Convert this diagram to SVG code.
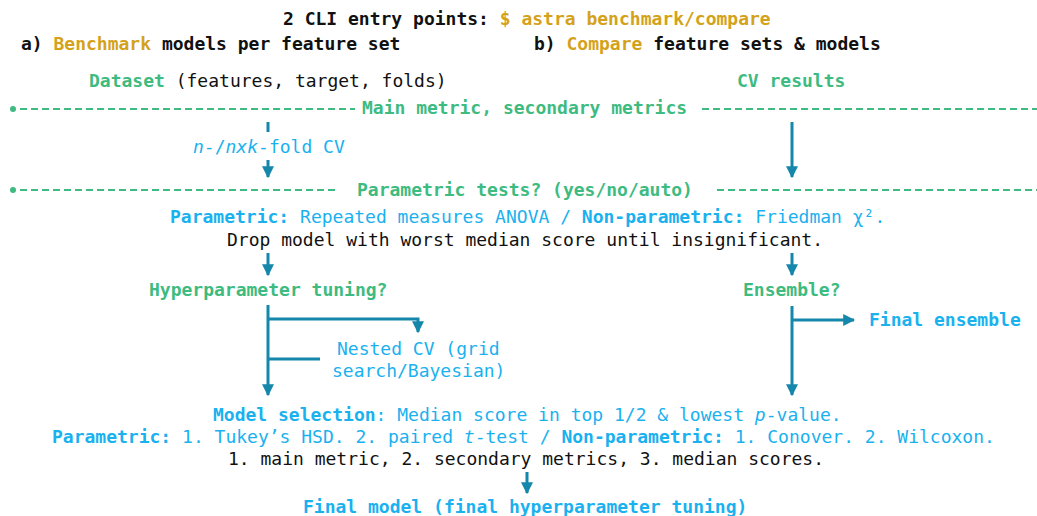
<svg xmlns="http://www.w3.org/2000/svg" width="1037" height="516" viewBox="0 0 1037 516">
<defs>
<style>
text{font-family:"DejaVu Sans Mono","Liberation Mono",monospace;font-size:18px;fill:#111;}
.b{font-weight:bold;}
.gold{fill:#d4a21a;}
.green{fill:#3dbb80;}
.blue{fill:#1ab1ef;}
.i{font-style:italic;}
.dash{stroke:#3dbb80;stroke-width:2;stroke-dasharray:7 4;fill:none;}
.conn{stroke:#1487ab;stroke-width:3;fill:none;}
</style>
<marker id="ah" viewBox="0 0 10 10" refX="9" refY="5" markerWidth="4" markerHeight="4" orient="auto" markerUnits="strokeWidth">
<path d="M0,0 L10,5 L0,10 z" fill="#1487ab"/>
</marker>
</defs>
<rect width="1037" height="516" fill="#ffffff"/>

<g id="title">
<text x="283" y="24.5" class="b">2 CLI entry points: <tspan class="gold">$ astra benchmark/compare</tspan></text>
</g>
<g id="header-a">
<text x="21" y="50" class="b">a) <tspan class="gold">Benchmark</tspan> models per feature set</text>
</g>
<g id="header-b">
<text x="534" y="50" class="b">b) <tspan class="gold">Compare</tspan> feature sets &amp; models</text>
</g>
<g id="dataset">
<text x="89" y="87"><tspan class="b green">Dataset</tspan> (features, target, folds)</text>
</g>
<g id="cv-results">
<text x="737" y="87" class="b green">CV results</text>
</g>
<g id="metrics">
<path class="dash" d="M20,109 H355 M702,109 H1037"/>
<circle cx="13" cy="109" r="3" fill="#3dbb80"/>
<text x="362" y="114" class="b green">Main metric, secondary metrics</text>
</g>
<g id="cv">
<text x="193" y="153" class="blue"><tspan class="i">n</tspan>-/<tspan class="i">nxk</tspan>-fold CV</text>
</g>
<g id="param-tests">
<path class="dash" d="M20,190 H339 M717,190 H1037"/>
<circle cx="13" cy="190" r="3" fill="#3dbb80"/>
<text x="357" y="196" class="b green">Parametric tests? (yes/no/auto)</text>
</g>
<g id="omnibus">
<text x="170" y="223" class="blue"><tspan class="b">Parametric:</tspan> Repeated measures ANOVA / <tspan class="b">Non-parametric:</tspan> Friedman χ².</text>
<text x="227" y="246">Drop model with worst median score until insignificant.</text>
</g>
<g id="hyper">
<text x="149" y="296" class="b green">Hyperparameter tuning?</text>
</g>
<g id="nested">
<text x="337" y="355" class="blue">Nested CV (grid</text>
<text x="332" y="377" class="blue">search/Bayesian)</text>
</g>
<g id="ensemble">
<text x="743" y="296" class="b green">Ensemble?</text>
</g>
<g id="final-ensemble">
<text x="869" y="326" class="b blue">Final ensemble</text>
</g>
<g id="model-selection">
<text x="213" y="421" class="blue"><tspan class="b">Model selection</tspan>: Median score in top 1/2 &amp; lowest <tspan class="i">p</tspan>-value.</text>
<text x="52" y="443" class="blue"><tspan class="b">Parametric:</tspan> 1. Tukey’s HSD. 2. paired <tspan class="i">t</tspan>-test / <tspan class="b">Non-parametric:</tspan> 1. Conover. 2. Wilcoxon.</text>
<text x="228" y="465">1. main metric, 2. secondary metrics, 3. median scores.</text>
</g>
<g id="final-model">
<text x="303" y="513" class="b blue">Final model (final hyperparameter tuning)</text>
</g>

<g id="connectors">
<path class="conn" d="M268,122 V132"/>
<path class="conn" d="M268,160 V177" marker-end="url(#ah)"/>
<path class="conn" d="M792,122 V177" marker-end="url(#ah)"/>
<path class="conn" d="M268,253 V275" marker-end="url(#ah)"/>
<path class="conn" d="M792,253 V275" marker-end="url(#ah)"/>
<path class="conn" d="M268,305 V395" marker-end="url(#ah)"/>
<path class="conn" d="M268,319 H418 V332" marker-end="url(#ah)"/>
<path class="conn" d="M268,359 H320"/>
<path class="conn" d="M792,306 V395" marker-end="url(#ah)"/>
<path class="conn" d="M792,320 H854" marker-end="url(#ah)"/>
<path class="conn" d="M527,472 V493" marker-end="url(#ah)"/>
</g>
</svg>
